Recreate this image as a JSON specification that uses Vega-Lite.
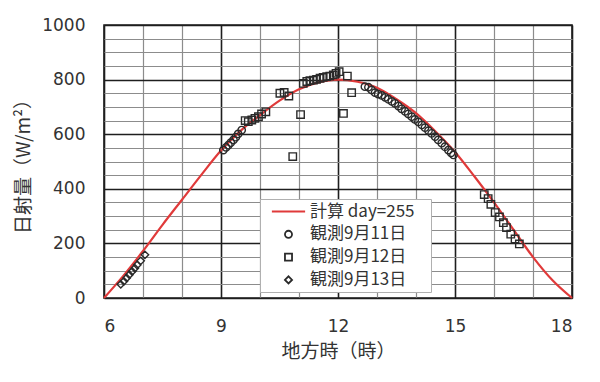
{
  "$schema": "https://vega.github.io/schema/vega-lite/v6.json",
  "autosize": "none",
  "width": 468,
  "height": 273,
  "padding": {"left": 104, "top": 25, "right": 28, "bottom": 84},
  "background": "white",
  "config": {
    "view": {"stroke": "#1e1e1e", "strokeWidth": 1.6},
    "font": "Noto Sans CJK JP"
  },
  "datasets": {
    "calc": [
      {"series": "計算 day=255", "t": 6, "v": 0},
      {"series": "計算 day=255", "t": 6.5, "v": 82},
      {"series": "計算 day=255", "t": 7, "v": 172},
      {"series": "計算 day=255", "t": 7.5, "v": 268},
      {"series": "計算 day=255", "t": 8, "v": 360},
      {"series": "計算 day=255", "t": 8.5, "v": 452},
      {"series": "計算 day=255", "t": 9, "v": 540},
      {"series": "計算 day=255", "t": 9.5, "v": 612},
      {"series": "計算 day=255", "t": 10, "v": 670},
      {"series": "計算 day=255", "t": 10.5, "v": 723},
      {"series": "計算 day=255", "t": 11, "v": 765},
      {"series": "計算 day=255", "t": 11.5, "v": 790},
      {"series": "計算 day=255", "t": 12, "v": 800},
      {"series": "計算 day=255", "t": 12.5, "v": 792},
      {"series": "計算 day=255", "t": 13, "v": 770},
      {"series": "計算 day=255", "t": 13.5, "v": 728},
      {"series": "計算 day=255", "t": 14, "v": 677},
      {"series": "計算 day=255", "t": 14.5, "v": 610},
      {"series": "計算 day=255", "t": 15, "v": 535},
      {"series": "計算 day=255", "t": 15.5, "v": 445},
      {"series": "計算 day=255", "t": 16, "v": 350},
      {"series": "計算 day=255", "t": 16.5, "v": 250},
      {"series": "計算 day=255", "t": 17, "v": 150},
      {"series": "計算 day=255", "t": 17.5, "v": 65},
      {"series": "計算 day=255", "t": 18, "v": 0}
    ],
    "obs": [
      {"series": "観測9月11日", "t": 9.06, "v": 542},
      {"series": "観測9月11日", "t": 9.13, "v": 552},
      {"series": "観測9月11日", "t": 9.19, "v": 560},
      {"series": "観測9月11日", "t": 9.25, "v": 569},
      {"series": "観測9月11日", "t": 9.32, "v": 579},
      {"series": "観測9月11日", "t": 9.38, "v": 589},
      {"series": "観測9月11日", "t": 9.44, "v": 601},
      {"series": "観測9月11日", "t": 9.53, "v": 615},
      {"series": "観測9月11日", "t": 12.69, "v": 774},
      {"series": "観測9月11日", "t": 12.78, "v": 772},
      {"series": "観測9月11日", "t": 12.86, "v": 762},
      {"series": "観測9月11日", "t": 12.95, "v": 752},
      {"series": "観測9月11日", "t": 13.03, "v": 747},
      {"series": "観測9月11日", "t": 13.12, "v": 742},
      {"series": "観測9月11日", "t": 13.21, "v": 735},
      {"series": "観測9月11日", "t": 13.29, "v": 728},
      {"series": "観測9月11日", "t": 13.38, "v": 720},
      {"series": "観測9月11日", "t": 13.46, "v": 713},
      {"series": "観測9月11日", "t": 13.55, "v": 703},
      {"series": "観測9月11日", "t": 13.63, "v": 693},
      {"series": "観測9月11日", "t": 13.72, "v": 684},
      {"series": "観測9月11日", "t": 13.8, "v": 674},
      {"series": "観測9月11日", "t": 13.89, "v": 664},
      {"series": "観測9月11日", "t": 13.97, "v": 654},
      {"series": "観測9月11日", "t": 14.06, "v": 645},
      {"series": "観測9月11日", "t": 14.15, "v": 634},
      {"series": "観測9月11日", "t": 14.23, "v": 624},
      {"series": "観測9月11日", "t": 14.32, "v": 613},
      {"series": "観測9月11日", "t": 14.4, "v": 603},
      {"series": "観測9月11日", "t": 14.49, "v": 591},
      {"series": "観測9月11日", "t": 14.57, "v": 579},
      {"series": "観測9月11日", "t": 14.66, "v": 567},
      {"series": "観測9月11日", "t": 14.74, "v": 554},
      {"series": "観測9月11日", "t": 14.83, "v": 542},
      {"series": "観測9月11日", "t": 14.9, "v": 532},
      {"series": "観測9月11日", "t": 14.96, "v": 524},
      {"series": "観測9月12日", "t": 9.62, "v": 650},
      {"series": "観測9月12日", "t": 9.7, "v": 646},
      {"series": "観測9月12日", "t": 9.79, "v": 652},
      {"series": "観測9月12日", "t": 9.87, "v": 658},
      {"series": "観測9月12日", "t": 9.96, "v": 664},
      {"series": "観測9月12日", "t": 10.04, "v": 674},
      {"series": "観測9月12日", "t": 10.15, "v": 682},
      {"series": "観測9月12日", "t": 10.51, "v": 750},
      {"series": "観測9月12日", "t": 10.62, "v": 753},
      {"series": "観測9月12日", "t": 10.74, "v": 740},
      {"series": "観測9月12日", "t": 10.84, "v": 518},
      {"series": "観測9月12日", "t": 11.04, "v": 672},
      {"series": "観測9月12日", "t": 11.11, "v": 786},
      {"series": "観測9月12日", "t": 11.2, "v": 793},
      {"series": "観測9月12日", "t": 11.28, "v": 796},
      {"series": "観測9月12日", "t": 11.37, "v": 798},
      {"series": "観測9月12日", "t": 11.45, "v": 801},
      {"series": "観測9月12日", "t": 11.54, "v": 805},
      {"series": "観測9月12日", "t": 11.62, "v": 808},
      {"series": "観測9月12日", "t": 11.71, "v": 811},
      {"series": "観測9月12日", "t": 11.79, "v": 813},
      {"series": "観測9月12日", "t": 11.88, "v": 817},
      {"series": "観測9月12日", "t": 11.95, "v": 823},
      {"series": "観測9月12日", "t": 12.03, "v": 829},
      {"series": "観測9月12日", "t": 12.14, "v": 676},
      {"series": "観測9月12日", "t": 12.24, "v": 813},
      {"series": "観測9月12日", "t": 12.35, "v": 752},
      {"series": "観測9月12日", "t": 15.75, "v": 379},
      {"series": "観測9月12日", "t": 15.85, "v": 364},
      {"series": "観測9月12日", "t": 15.92, "v": 343},
      {"series": "観測9月12日", "t": 16.03, "v": 313},
      {"series": "観測9月12日", "t": 16.14, "v": 297},
      {"series": "観測9月12日", "t": 16.24, "v": 276},
      {"series": "観測9月12日", "t": 16.32, "v": 258},
      {"series": "観測9月12日", "t": 16.43, "v": 234},
      {"series": "観測9月12日", "t": 16.54, "v": 216},
      {"series": "観測9月12日", "t": 16.65, "v": 198},
      {"series": "観測9月13日", "t": 6.43, "v": 50},
      {"series": "観測9月13日", "t": 6.51, "v": 61},
      {"series": "観測9月13日", "t": 6.58, "v": 73},
      {"series": "観測9月13日", "t": 6.65, "v": 85},
      {"series": "観測9月13日", "t": 6.72, "v": 97},
      {"series": "観測9月13日", "t": 6.79, "v": 109},
      {"series": "観測9月13日", "t": 6.85, "v": 121},
      {"series": "観測9月13日", "t": 6.94, "v": 136},
      {"series": "観測9月13日", "t": 7.05, "v": 158}
    ]
  },
  "encoding": {
    "x": {
      "field": "t",
      "type": "quantitative",
      "scale": {"domain": [6, 18], "nice": false, "zero": false},
      "axis": {
        "title": "地方時（時）",
        "values": [6, 7, 8, 9, 10, 11, 12, 13, 14, 15, 16, 17, 18],
        "format": "d",
        "labelExpr": "datum.value % 3 === 0 ? datum.label : ''",
        "labelFontSize": 17,
        "labelColor": "#333",
        "labelPadding": 20,
        "labelFont": "DejaVu Sans",
        "titleFontSize": 19,
        "titleFontWeight": "normal",
        "titleColor": "#333",
        "titlePadding": 8,
        "titleFont": "Noto Sans CJK JP",
        "domain": false,
        "ticks": false,
        "labelOverlap": false,
        "gridColor": {"condition": {"test": "datum.value % 3 === 0", "value": "#1e1e1e"}, "value": "#8c8c8c"},
        "gridWidth": {"condition": {"test": "datum.value % 3 === 0", "value": 1.6}, "value": 1.2},
        "gridOpacity": 1
      }
    },
    "y": {
      "field": "v",
      "type": "quantitative",
      "scale": {"domain": [0, 1000], "nice": false},
      "axis": {
        "title": "日射量（W/m²）",
        "values": [0, 50, 100, 150, 200, 250, 300, 350, 400, 450, 500, 550, 600, 650, 700, 750, 800, 850, 900, 950, 1000],
        "format": "d",
        "labelExpr": "datum.value % 200 === 0 ? datum.label : ''",
        "labelFontSize": 17,
        "labelColor": "#333",
        "labelPadding": 19,
        "labelFont": "DejaVu Sans",
        "titleFontSize": 19,
        "titleFontWeight": "normal",
        "titleColor": "#333",
        "titlePadding": 8,
        "titleFont": "Noto Sans CJK JP",
        "domain": false,
        "ticks": false,
        "labelOverlap": false,
        "gridColor": {"condition": {"test": "datum.value % 200 === 0", "value": "#1e1e1e"}, "value": "#8c8c8c"},
        "gridWidth": {"condition": {"test": "datum.value % 200 === 0", "value": 1.6}, "value": 1.2},
        "gridOpacity": 1
      }
    }
  },
  "layer": [
    {
      "data": {"name": "calc"},
      "mark": {"type": "line", "color": "#e03a3a", "strokeWidth": 2.2, "interpolate": "monotone"},
      "encoding": {}
    },
    {
      "data": {"name": "obs"},
      "mark": {"type": "point", "filled": false, "size": 55, "strokeWidth": 1.4, "opacity": 1},
      "encoding": {
        "shape": {
          "field": "series",
          "type": "nominal",
          "scale": {
            "domain": ["計算 day=255", "観測9月11日", "観測9月12日", "観測9月13日"],
            "range": ["M-4.7,0H4.7", "circle", "square", "diamond"]
          },
          "legend": {
            "orient": "none",
            "legendX": 156,
            "legendY": 174,
            "title": null,
            "labelFontSize": 17,
            "labelFont": "Noto Sans CJK JP",
            "labelColor": "#333",
            "labelExpr": "datum.label + '\u2800'",
            "strokeColor": "#b0b0b0",
            "fillColor": "white",
            "padding": 4,
            "rowPadding": 4.8,
            "symbolSize": 50,
            "symbolStrokeWidth": 1.8,
            "symbolOffset": 16,
            "labelOffset": 13
          }
        },
        "color": {
          "field": "series",
          "type": "nominal",
          "scale": {
            "domain": ["計算 day=255", "観測9月11日", "観測9月12日", "観測9月13日"],
            "range": ["#e03a3a", "#2a2a2a", "#2a2a2a", "#2a2a2a"]
          },
          "legend": {
            "orient": "none",
            "legendX": 156,
            "legendY": 174,
            "title": null,
            "labelFontSize": 17,
            "labelFont": "Noto Sans CJK JP",
            "labelColor": "#333",
            "labelExpr": "datum.label + '\u2800'",
            "strokeColor": "#b0b0b0",
            "fillColor": "white",
            "padding": 4,
            "rowPadding": 4.8,
            "symbolSize": 50,
            "symbolStrokeWidth": 1.8,
            "symbolOffset": 16,
            "labelOffset": 13
          }
        }
      }
    }
  ]
}
